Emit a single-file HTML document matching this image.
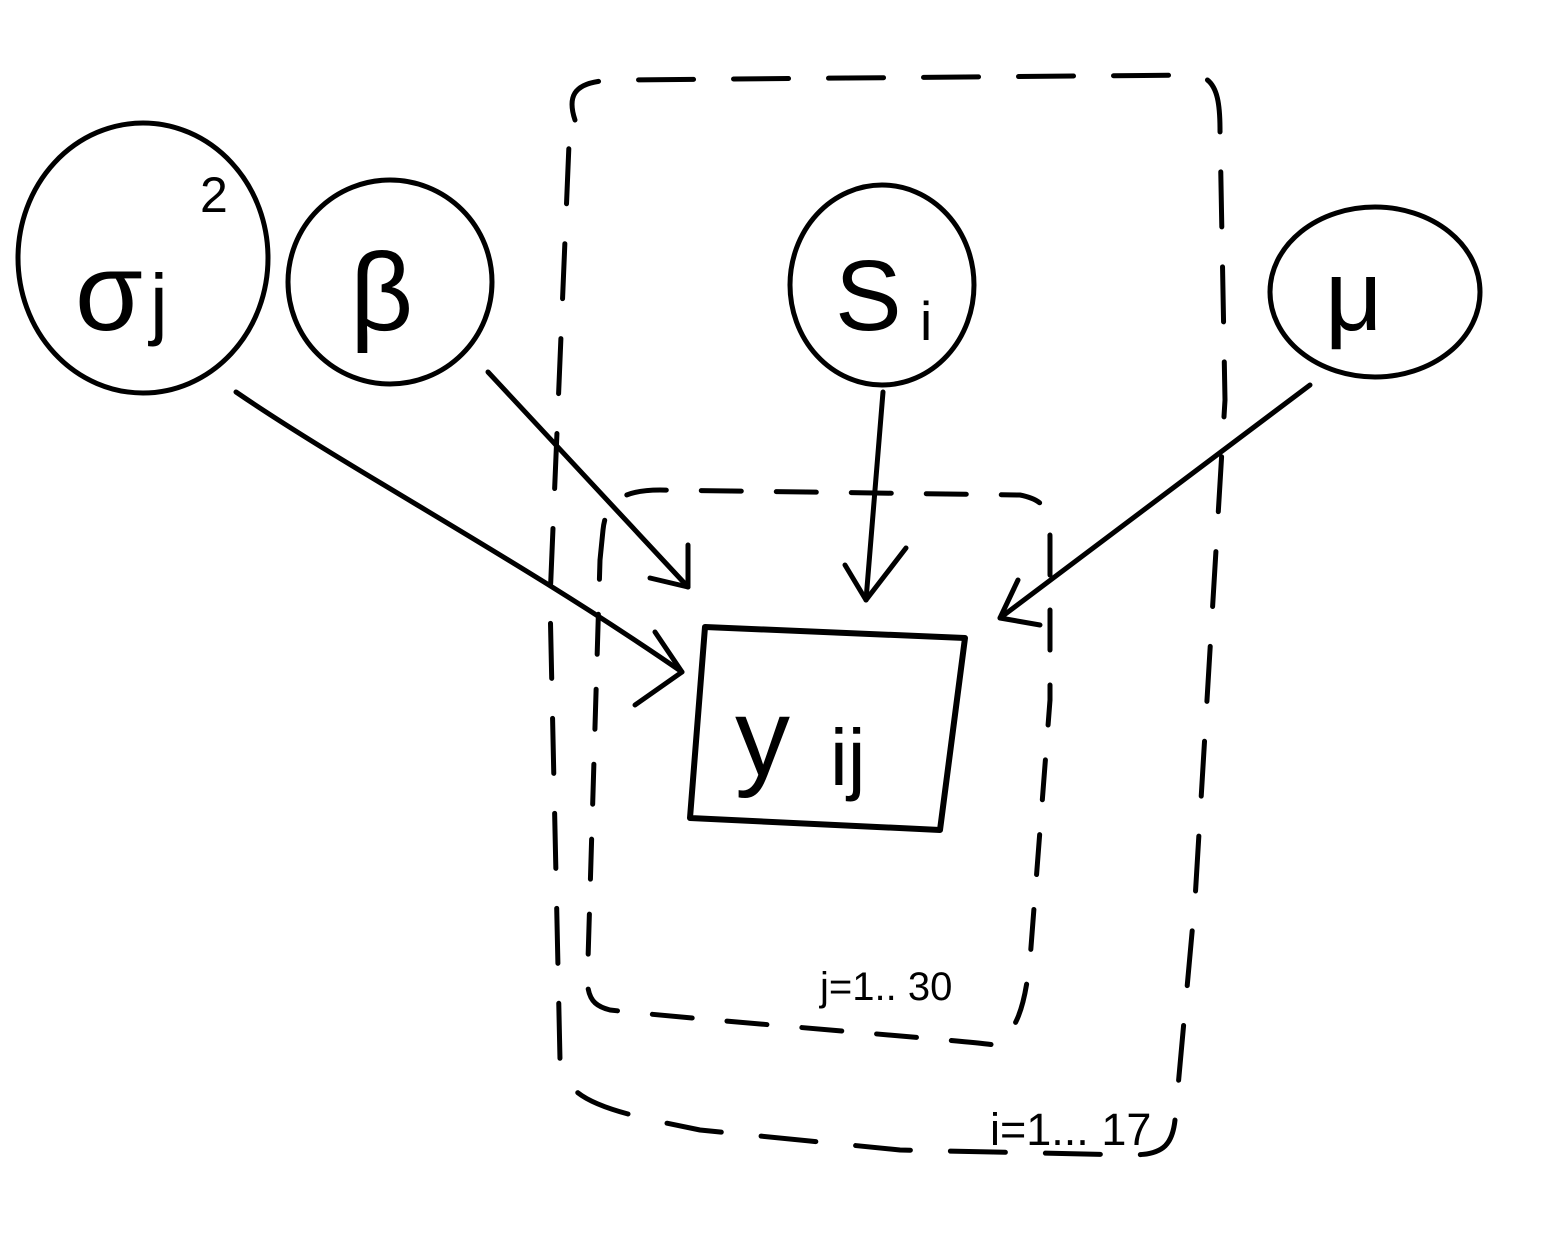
<!DOCTYPE html>
<html><head><meta charset="utf-8"><style>
html,body{margin:0;padding:0;background:#fff;}
svg{display:block;}
text{font-family:"Liberation Sans",sans-serif;fill:#000;}
</style></head><body>
<svg width="1552" height="1258" viewBox="0 0 1552 1258" xmlns="http://www.w3.org/2000/svg">
<g fill="none" stroke="#000" stroke-width="5" stroke-linecap="round" stroke-linejoin="round">
<!-- outer plate -->
<path d="M575,120 C565,90 580,80 620,80 L1195,75 C1215,78 1220,95 1220,130 L1225,400 L1195,900 L1175,1120 C1172,1148 1160,1155 1130,1155 L900,1150 L700,1130 C600,1110 565,1100 560,1060 L550,600 L570,120" stroke-dasharray="55,40"/>
<!-- inner plate -->
<path d="M600,560 L603,530 C606,500 625,490 660,490 L1020,495 C1045,500 1050,510 1050,540 L1050,700 L1030,960 C1025,1000 1020,1030 995,1045 C960,1040 700,1020 610,1010 C590,1005 585,995 588,960 L600,560" stroke-dasharray="40,35"/>
<!-- nodes -->
<ellipse cx="143" cy="258" rx="125" ry="135"/>
<circle cx="390" cy="282" r="102"/>
<ellipse cx="882" cy="285" rx="92" ry="100"/>
<ellipse cx="1375" cy="292" rx="105" ry="85"/>
<!-- box -->
<path d="M705,627 L965,638 L940,830 L690,818 Z" stroke-width="6"/>
<!-- arrows -->
<path d="M236,392 C350,470 520,560 682,672"/>
<path d="M655,632 L682,672 L635,705"/>
<path d="M488,372 L688,587"/>
<path d="M688,545 L688,587 L650,578"/>
<path d="M883,392 L866,600"/>
<path d="M845,565 L866,600 L906,548"/>
<path d="M1310,385 L1000,618"/>
<path d="M1018,580 L1000,618 L1040,625"/>
</g>
<text x="75" y="330" font-size="110">σ</text>
<text x="150" y="330" font-size="80">j</text>
<text x="200" y="212" font-size="50">2</text>
<text x="350" y="330" font-size="110">β</text>
<text x="835" y="330" font-size="100">S</text>
<text x="920" y="340" font-size="55">i</text>
<text x="1325" y="330" font-size="100">μ</text>
<text x="735" y="775" font-size="110">y</text>
<text x="830" y="785" font-size="80">ij</text>
<text x="820" y="1000" font-size="40">j=1.. 30</text>
<text x="990" y="1145" font-size="45">i=1... 17</text>
</svg>
</body></html>
